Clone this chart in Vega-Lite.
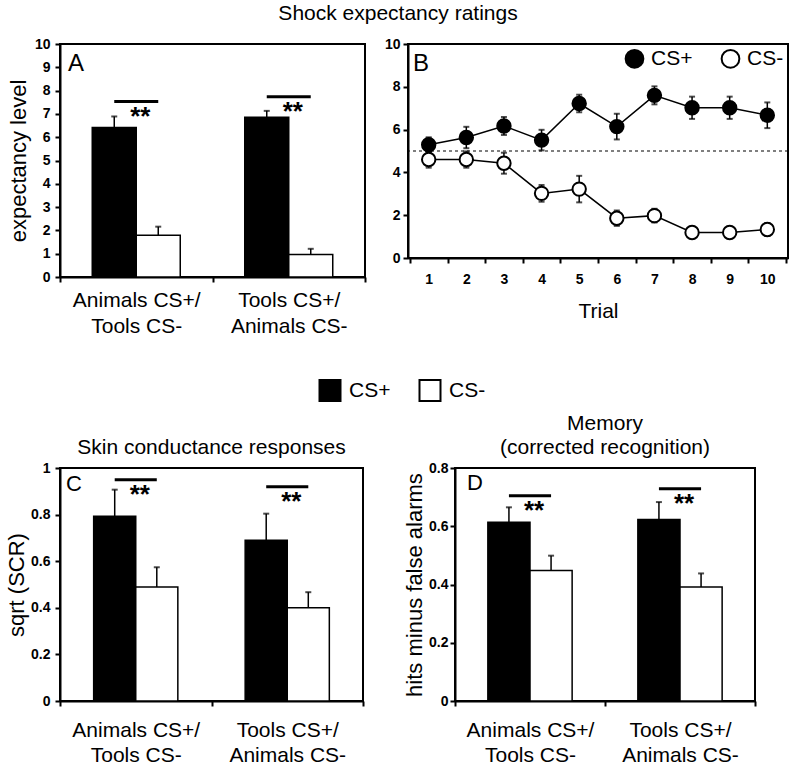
{
  "$schema": "https://vega.github.io/schema/vega-lite/v6.json",
  "padding": {"left": 4, "top": 3, "right": 5, "bottom": 0},
  "background": "white",
  "config": {
    "font": "Liberation Sans",
    "view": {"stroke": "black", "strokeWidth": 2},
    "axis": {
      "domainColor": "black", "domainWidth": 2, "tickColor": "black", "tickWidth": 2, "tickSize": 5,
      "labelColor": "black", "titleColor": "black", "grid": false,
      "labelFont": "Liberation Sans", "titleFont": "Liberation Sans",
      "titleFontWeight": "normal", "titleFontSize": 22, "labelFontSize": 14, "labelFontWeight": "bold"
    },
    "title": {"font": "Liberation Sans", "fontSize": 21, "fontWeight": "normal", "color": "black"},
    "text": {"font": "Liberation Sans", "color": "black"}
  },
  "resolve": {"scale": {"x": "independent", "y": "independent", "fill": "independent", "xOffset": "independent"}, "legend": {"fill": "independent"}},
  "align": "none",
  "spacing": 7,
  "vconcat": [
    {
      "title": {"text": "Shock expectancy ratings", "anchor": "middle", "offset": 12},
      "spacing": 16,
      "align": "none",
      "resolve": {"scale": {"x": "independent", "y": "independent", "fill": "independent", "xOffset": "independent"}, "legend": {"fill": "independent"}},
      "hconcat": [
        {
          "width": 305, "height": 233,
          "data": {"values": [
            {"group": "Animals CS+/Tools CS-", "cond": "CS+", "mean": 6.42, "hi": 6.89, "sig": 7.53},
            {"group": "Animals CS+/Tools CS-", "cond": "CS-", "mean": 1.79, "hi": 2.16, "sig": 7.53},
            {"group": "Tools CS+/Animals CS-", "cond": "CS+", "mean": 6.86, "hi": 7.13, "sig": 7.74},
            {"group": "Tools CS+/Animals CS-", "cond": "CS-", "mean": 0.97, "hi": 1.21, "sig": 7.74}
          ]},
          "encoding": {
            "x": {"field": "group", "type": "nominal", "sort": null, "scale": {"paddingInner": 0, "paddingOuter": 0},
              "axis": {"title": null, "labelAngle": 0, "tickBand": "extent", "labelFontSize": 21, "labelFontWeight": "normal", "labelLineHeight": 26, "labelPadding": 7,
                "labelExpr": "indexof(datum.label, '/') > 0 ? [split(datum.label,'/')[0] + '/', split(datum.label,'/')[1]] : ''"}},
            "xOffset": {"field": "cond", "type": "nominal", "sort": ["CS+", "CS-"], "scale": {"paddingInner": 0, "paddingOuter": 0.733}},
            "y": {"field": "mean", "type": "quantitative", "title": "expectancy level", "scale": {"domain": [0, 10], "nice": false},
              "axis": {"values": [0, 1, 2, 3, 4, 5, 6, 7, 8, 9, 10], "titlePadding": 4, "labelPadding": 5}}
          },
          "layer": [
            {"mark": {"type": "bar", "stroke": "black", "strokeWidth": 1.5},
             "encoding": {"fill": {"field": "cond", "type": "nominal", "scale": {"domain": ["CS+", "CS-"], "range": ["black", "white"]}, "legend": null}}},
            {"mark": {"type": "rule", "color": "black", "strokeWidth": 1.5},
             "encoding": {"y2": {"field": "hi"}}},
            {"mark": {"type": "tick", "color": "black", "size": 6, "thickness": 2},
             "encoding": {"y": {"field": "hi", "type": "quantitative", "title": "expectancy level"}}},
            {"mark": {"type": "line", "color": "black", "strokeWidth": 3},
             "encoding": {"y": {"field": "sig", "type": "quantitative", "title": "expectancy level"}, "detail": {"field": "group"}}},
            {"transform": [{"filter": "datum.cond == 'CS+'"}],
             "mark": {"type": "text", "fontSize": 26, "fontWeight": "bold", "baseline": "alphabetic", "dy": 23, "dx": 4},
             "encoding": {"xOffset": null, "y": {"field": "sig", "type": "quantitative", "title": "expectancy level"}, "text": {"value": "**"}}},
            {"transform": [{"filter": "datum.cond == 'CS+' && datum.group == 'Animals CS+/Tools CS-'"}],
             "mark": {"type": "text", "fontSize": 24, "align": "left", "baseline": "alphabetic", "dx": 8},
             "encoding": {"x": {"field": "group", "type": "nominal", "bandPosition": 0}, "xOffset": null, "y": {"datum": 8.84}, "text": {"value": "A"}}}
          ]
        },
        {
          "width": 380, "height": 214,
          "data": {"values": [
            {"trial": 1, "cond": "CS+", "mean": 5.29, "lo": 4.94, "hi": 5.64},
            {"trial": 2, "cond": "CS+", "mean": 5.63, "lo": 5.13, "hi": 6.13},
            {"trial": 3, "cond": "CS+", "mean": 6.17, "lo": 5.75, "hi": 6.59},
            {"trial": 4, "cond": "CS+", "mean": 5.51, "lo": 5.03, "hi": 5.99},
            {"trial": 5, "cond": "CS+", "mean": 7.22, "lo": 6.81, "hi": 7.63},
            {"trial": 6, "cond": "CS+", "mean": 6.14, "lo": 5.54, "hi": 6.74},
            {"trial": 7, "cond": "CS+", "mean": 7.6, "lo": 7.18, "hi": 8.02},
            {"trial": 8, "cond": "CS+", "mean": 7.02, "lo": 6.5, "hi": 7.54},
            {"trial": 9, "cond": "CS+", "mean": 7.02, "lo": 6.5, "hi": 7.54},
            {"trial": 10, "cond": "CS+", "mean": 6.67, "lo": 6.07, "hi": 7.27},
            {"trial": 1, "cond": "CS-", "mean": 4.6, "lo": 4.22, "hi": 4.98},
            {"trial": 2, "cond": "CS-", "mean": 4.6, "lo": 4.22, "hi": 4.98},
            {"trial": 3, "cond": "CS-", "mean": 4.43, "lo": 3.94, "hi": 4.92},
            {"trial": 4, "cond": "CS-", "mean": 3.02, "lo": 2.63, "hi": 3.41},
            {"trial": 5, "cond": "CS-", "mean": 3.22, "lo": 2.6, "hi": 3.84},
            {"trial": 6, "cond": "CS-", "mean": 1.86, "lo": 1.5, "hi": 2.22},
            {"trial": 7, "cond": "CS-", "mean": 1.98, "lo": 1.66, "hi": 2.3},
            {"trial": 8, "cond": "CS-", "mean": 1.19, "lo": 0.97, "hi": 1.41},
            {"trial": 9, "cond": "CS-", "mean": 1.19, "lo": 0.97, "hi": 1.41},
            {"trial": 10, "cond": "CS-", "mean": 1.33, "lo": 1.03, "hi": 1.63}
          ]},
          "layer": [
            {"data": {"values": [{"ref": 5}]},
             "mark": {"type": "rule", "color": "black", "strokeWidth": 1.2, "strokeDash": [3, 3]},
             "encoding": {"y": {"field": "ref", "type": "quantitative", "title": null, "scale": {"domain": [0, 10], "nice": false},
               "axis": {"values": [0, 1, 2, 3, 4, 5, 6, 7, 8, 9, 10], "labelPadding": 3}}}},
            {"mark": {"type": "line", "color": "black", "strokeWidth": 1.5},
             "encoding": {
               "x": {"field": "trial", "type": "ordinal", "scale": {"type": "band", "paddingInner": 0, "paddingOuter": 0.05},
                 "axis": {"title": "Trial", "labelAngle": 0, "tickBand": "extent", "labelPadding": 9, "titlePadding": 14, "titleFontSize": 21}},
               "y": {"field": "mean", "type": "quantitative", "title": null},
               "detail": {"field": "cond"}}},
            {"mark": {"type": "rule", "color": "black", "strokeWidth": 1.5},
             "encoding": {"x": {"field": "trial", "type": "ordinal"}, "y": {"field": "lo", "type": "quantitative", "title": null}, "y2": {"field": "hi"}}},
            {"mark": {"type": "tick", "color": "black", "size": 6, "thickness": 2},
             "encoding": {"x": {"field": "trial", "type": "ordinal"}, "y": {"field": "hi", "type": "quantitative", "title": null}}},
            {"mark": {"type": "tick", "color": "black", "size": 6, "thickness": 2},
             "encoding": {"x": {"field": "trial", "type": "ordinal"}, "y": {"field": "lo", "type": "quantitative", "title": null}}},
            {"mark": {"type": "point", "shape": "circle", "filled": true, "size": 180, "stroke": "black", "strokeWidth": 2, "opacity": 1},
             "encoding": {"x": {"field": "trial", "type": "ordinal"}, "y": {"field": "mean", "type": "quantitative", "title": null},
               "fill": {"field": "cond", "type": "nominal", "scale": {"domain": ["CS+", "CS-"], "range": ["black", "white"]},
                 "legend": {"orient": "top-right", "direction": "horizontal", "title": null, "symbolType": "circle", "symbolSize": 314,
                   "symbolStrokeColor": "black", "symbolStrokeWidth": 2, "symbolOpacity": 1, "labelFontSize": 21, "labelFont": "Liberation Sans",
                   "labelColor": "black", "labelOffset": 6, "columnPadding": 24, "offset": 4, "padding": 0}}}},
            {"transform": [{"filter": "datum.cond == 'CS+' && datum.trial == 1"}],
             "mark": {"type": "text", "fontSize": 24, "align": "left", "baseline": "alphabetic", "dx": 3},
             "encoding": {"x": {"field": "trial", "type": "ordinal", "bandPosition": 0}, "y": {"datum": 8.74, "type": "quantitative"}, "text": {"value": "B"}}}
          ]
        }
      ]
    },
    {
      "width": 746, "height": 60,
      "view": {"stroke": null},
      "data": {"values": [{"cond": "CS+", "idx": 1}, {"cond": "CS-", "idx": 2}]},
      "encoding": {
        "x": {"field": "idx", "type": "quantitative", "scale": {"domain": [-1.7, 5.76], "nice": false, "zero": false}, "axis": null},
        "y": {"datum": 0.225, "type": "quantitative", "scale": {"domain": [0, 1]}, "axis": null}
      },
      "layer": [
        {"mark": {"type": "point", "shape": "square", "filled": true, "size": 441, "stroke": "black", "strokeWidth": 2, "opacity": 1},
         "encoding": {"fill": {"field": "cond", "type": "nominal", "scale": {"domain": ["CS+", "CS-"], "range": ["black", "white"]}, "legend": null}}},
        {"mark": {"type": "text", "align": "left", "baseline": "middle", "dx": 19, "fontSize": 21},
         "encoding": {"text": {"field": "cond"}}}
      ]
    },
    {
      "spacing": 37,
      "align": "none",
      "resolve": {"scale": {"x": "independent", "y": "independent", "fill": "independent", "xOffset": "independent"}},
      "hconcat": [
        {
          "width": 303, "height": 233,
          "title": {"text": [" ", "Skin conductance responses"], "frame": "group", "anchor": "middle", "lineHeight": 24, "offset": 3},
          "data": {"values": [
            {"group": "Animals CS+/Tools CS-", "cond": "CS+", "mean": 0.793, "hi": 0.907, "sig": 0.95},
            {"group": "Animals CS+/Tools CS-", "cond": "CS-", "mean": 0.489, "hi": 0.574, "sig": 0.95},
            {"group": "Tools CS+/Animals CS-", "cond": "CS+", "mean": 0.69, "hi": 0.804, "sig": 0.92},
            {"group": "Tools CS+/Animals CS-", "cond": "CS-", "mean": 0.4, "hi": 0.467, "sig": 0.92}
          ]},
          "encoding": {
            "x": {"field": "group", "type": "nominal", "sort": null, "scale": {"paddingInner": 0, "paddingOuter": 0},
              "axis": {"title": null, "labelAngle": 0, "tickBand": "extent", "labelFontSize": 21, "labelFontWeight": "normal", "labelLineHeight": 25, "labelPadding": 13,
                "labelExpr": "indexof(datum.label, '/') > 0 ? [split(datum.label,'/')[0] + '/', split(datum.label,'/')[1]] : ''"}},
            "xOffset": {"field": "cond", "type": "nominal", "sort": ["CS+", "CS-"], "scale": {"paddingInner": 0, "paddingOuter": 0.8}},
            "y": {"field": "mean", "type": "quantitative", "title": "sqrt (SCR)", "scale": {"domain": [0, 1], "nice": false},
              "axis": {"values": [0, 0.2, 0.4, 0.6, 0.8, 1], "format": "~g", "titlePadding": 2, "labelPadding": 5}}
          },
          "layer": [
            {"mark": {"type": "bar", "stroke": "black", "strokeWidth": 1.5},
             "encoding": {"fill": {"field": "cond", "type": "nominal", "scale": {"domain": ["CS+", "CS-"], "range": ["black", "white"]}, "legend": null}}},
            {"mark": {"type": "rule", "color": "black", "strokeWidth": 1.5},
             "encoding": {"y2": {"field": "hi"}}},
            {"mark": {"type": "tick", "color": "black", "size": 6, "thickness": 2},
             "encoding": {"y": {"field": "hi", "type": "quantitative", "title": "sqrt (SCR)"}}},
            {"mark": {"type": "line", "color": "black", "strokeWidth": 3},
             "encoding": {"y": {"field": "sig", "type": "quantitative", "title": "sqrt (SCR)"}, "detail": {"field": "group"}}},
            {"transform": [{"filter": "datum.cond == 'CS+'"}],
             "mark": {"type": "text", "fontSize": 26, "fontWeight": "bold", "baseline": "alphabetic", "dy": 23, "dx": 4},
             "encoding": {"xOffset": null, "y": {"field": "sig", "type": "quantitative", "title": "sqrt (SCR)"}, "text": {"value": "**"}}},
            {"transform": [{"filter": "datum.cond == 'CS+' && datum.group == 'Animals CS+/Tools CS-'"}],
             "mark": {"type": "text", "fontSize": 22, "align": "left", "baseline": "alphabetic", "dx": 6},
             "encoding": {"x": {"field": "group", "type": "nominal", "bandPosition": 0}, "xOffset": null, "y": {"datum": 0.9}, "text": {"value": "C"}}}
          ]
        },
        {
          "width": 300, "height": 233,
          "title": {"text": ["Memory", "(corrected recognition)"], "frame": "group", "anchor": "middle", "lineHeight": 24, "offset": 3},
          "data": {"values": [
            {"group": "Animals CS+/Tools CS-", "cond": "CS+", "mean": 0.614, "hi": 0.665, "sig": 0.705},
            {"group": "Animals CS+/Tools CS-", "cond": "CS-", "mean": 0.448, "hi": 0.499, "sig": 0.705},
            {"group": "Tools CS+/Animals CS-", "cond": "CS+", "mean": 0.623, "hi": 0.683, "sig": 0.729},
            {"group": "Tools CS+/Animals CS-", "cond": "CS-", "mean": 0.391, "hi": 0.438, "sig": 0.729}
          ]},
          "encoding": {
            "x": {"field": "group", "type": "nominal", "sort": null, "scale": {"paddingInner": 0, "paddingOuter": 0},
              "axis": {"title": null, "labelAngle": 0, "tickBand": "extent", "labelFontSize": 21, "labelFontWeight": "normal", "labelLineHeight": 25, "labelPadding": 13,
                "labelExpr": "indexof(datum.label, '/') > 0 ? [split(datum.label,'/')[0] + '/', split(datum.label,'/')[1]] : ''"}},
            "xOffset": {"field": "cond", "type": "nominal", "sort": ["CS+", "CS-"], "scale": {"paddingInner": 0, "paddingOuter": 0.78}},
            "y": {"field": "mean", "type": "quantitative", "title": "hits minus false alarms", "scale": {"domain": [0, 0.8], "nice": false},
              "axis": {"values": [0, 0.2, 0.4, 0.6, 0.8], "format": "~g", "titlePadding": 2, "labelPadding": 2}}
          },
          "layer": [
            {"mark": {"type": "bar", "stroke": "black", "strokeWidth": 1.5},
             "encoding": {"fill": {"field": "cond", "type": "nominal", "scale": {"domain": ["CS+", "CS-"], "range": ["black", "white"]}, "legend": null}}},
            {"mark": {"type": "rule", "color": "black", "strokeWidth": 1.5},
             "encoding": {"y2": {"field": "hi"}}},
            {"mark": {"type": "tick", "color": "black", "size": 6, "thickness": 2},
             "encoding": {"y": {"field": "hi", "type": "quantitative", "title": "hits minus false alarms"}}},
            {"mark": {"type": "line", "color": "black", "strokeWidth": 3},
             "encoding": {"y": {"field": "sig", "type": "quantitative", "title": "hits minus false alarms"}, "detail": {"field": "group"}}},
            {"transform": [{"filter": "datum.cond == 'CS+'"}],
             "mark": {"type": "text", "fontSize": 26, "fontWeight": "bold", "baseline": "alphabetic", "dy": 23, "dx": 4},
             "encoding": {"xOffset": null, "y": {"field": "sig", "type": "quantitative", "title": "hits minus false alarms"}, "text": {"value": "**"}}},
            {"transform": [{"filter": "datum.cond == 'CS+' && datum.group == 'Animals CS+/Tools CS-'"}],
             "mark": {"type": "text", "fontSize": 22, "align": "left", "baseline": "alphabetic", "dx": 12},
             "encoding": {"x": {"field": "group", "type": "nominal", "bandPosition": 0}, "xOffset": null, "y": {"datum": 0.7245}, "text": {"value": "D"}}}
          ]
        }
      ]
    }
  ]
}
